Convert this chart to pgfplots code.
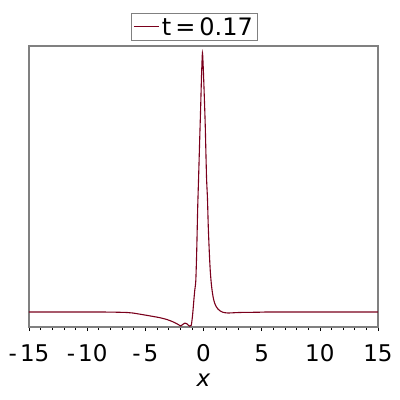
\documentclass[border=0pt]{standalone}
\usepackage{fontspec}
\setmainfont{DejaVu Sans}
\usepackage{pgfplots}
\pgfplotsset{compat=1.18}
\definecolor{curve}{RGB}{122,0,28}
\definecolor{axgrey}{RGB}{128,128,128}
\begin{document}
\begin{tikzpicture}
\begin{axis}[
  scale only axis,
  width=349pt, height=281pt,
  xmin=-15, xmax=15, ymin=-0.058, ymax=1.026,
  axis line style={axgrey, line width=1.3pt},
  xtick={-15,-10,-5,0,5,10,15},
  xticklabels={-\kern3pt15,-\kern3pt10,-\kern3pt5,0,5,10,15},
  minor x tick num=4,
  ytick=\empty,
  xtick pos=bottom,
  tick align=outside,
  major tick length=4pt, minor tick length=3pt,
  tick style={black, line width=0.6pt},
  ticklabel style={font=\fontsize{23}{26}\selectfont},
  xticklabel style={anchor=center, yshift=-22pt},
  xlabel={\textit{x}},
  xlabel style={font=\fontsize{23}{26}\selectfont, at={(axis description cs:0.5,0)}, anchor=center, yshift=-53pt},
  legend style={at={(0.473,1)}, anchor=south, yshift=5pt, draw=axgrey, line width=0.8pt,
    font=\fontsize{24}{27}\selectfont, inner sep=2pt},
  legend image code/.code={\draw[#1, line width=1.1pt] (0cm,0cm) -- (0.9cm,0cm);},
]
\addplot[curve, line width=1.1pt, smooth, tension=0.4] coordinates {
(-15,0) (-10,0) (-8,-0.0005) (-6.6,-0.002) (-6.08,-0.004) (-4.88,-0.013) (-3.76,-0.022)
(-3.16,-0.029) (-2.73,-0.036) (-2.3,-0.045) (-1.95,-0.054) (-1.78,-0.048) (-1.61,-0.043)
(-1.45,-0.045) (-1.3,-0.051) (-1.18,-0.055) (-1.05,-0.051) (-0.94,-0.013) (-0.83,0.045)
(-0.75,0.084) (-0.66,0.122) (-0.58,0.24) (-0.50,0.40) (-0.42,0.52) (-0.33,0.66) (-0.25,0.78)
(-0.17,0.91) (-0.09,1.0) (-0.01,0.93) (0.07,0.83) (0.15,0.72) (0.26,0.52) (0.34,0.44)
(0.41,0.33) (0.50,0.23) (0.58,0.16) (0.67,0.11) (0.76,0.076) (0.86,0.05) (0.97,0.033)
(1.1,0.02) (1.23,0.012) (1.4,0.005) (1.66,-0.001) (2.09,-0.004) (3.1,-0.002) (4.8,-0.001)
(6,0) (15,0)
};
\addlegendentry{t\,=\,0.17}
\end{axis}
\path (current axis.south west) ++(-29pt,-73pt) rectangle ++(400pt,400pt);
\end{tikzpicture}
\end{document}
